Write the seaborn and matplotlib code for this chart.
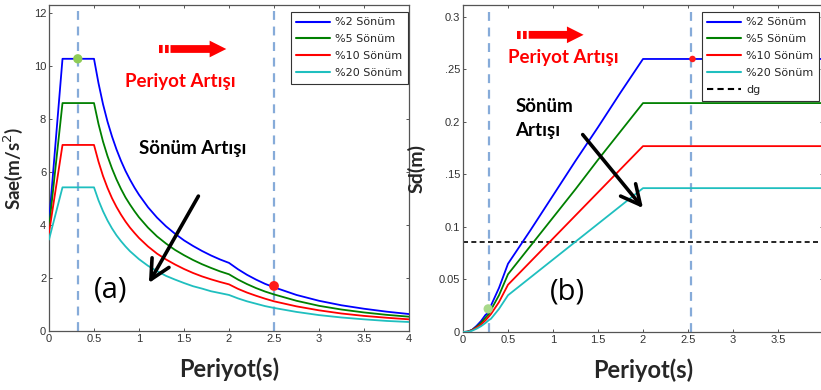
import numpy as np
import pandas as pd
import matplotlib
matplotlib.use("Agg")
import matplotlib.pyplot as plt
import seaborn as sns

# ---------------- data ----------------
series = ["%2 Sönüm", "%5 Sönüm", "%10 Sönüm", "%20 Sönüm"]
colors = ["#0000ff", "#008000", "#ff0000", "#1fbfbf"]

T_sae = [0, 0.15, 0.5, 0.55, 0.6, 0.65, 0.7, 0.75, 0.8, 0.85, 0.9, 0.95, 1.0,
         1.1, 1.2, 1.3, 1.4, 1.5, 1.6, 1.7, 1.8, 1.9, 2.0,
         2.1, 2.2, 2.3, 2.4, 2.5, 2.75, 3.0, 3.25, 3.5, 3.75, 4.0]
sae_2 = [4.1, 10.27, 10.27, 9.35, 8.56, 7.9, 7.34, 6.85, 6.42, 6.04, 5.71, 5.41, 5.14,
         4.67, 4.28, 3.95, 3.67, 3.42, 3.21, 3.02, 2.85, 2.70, 2.57,
         2.33, 2.12, 1.94, 1.78, 1.65, 1.36, 1.14, 0.97, 0.84, 0.73, 0.64]
sae_5 = [3.9, 8.6, 8.6, 7.81, 7.15, 6.6, 6.13, 5.72, 5.36, 5.04, 4.77, 4.52, 4.29,
         3.9, 3.57, 3.3, 3.06, 2.86, 2.68, 2.52, 2.38, 2.25, 2.14,
         1.94, 1.77, 1.62, 1.49, 1.38, 1.14, 0.95, 0.81, 0.7, 0.61, 0.54]
sae_10 = [3.7, 7.02, 7.02, 6.39, 5.85, 5.4, 5.01, 4.68, 4.39, 4.13, 3.9, 3.7, 3.51,
          3.19, 2.92, 2.7, 2.51, 2.34, 2.19, 2.06, 1.95, 1.85, 1.76,
          1.59, 1.45, 1.33, 1.22, 1.12, 0.93, 0.78, 0.66, 0.57, 0.5, 0.44]
sae_20 = [3.45, 5.42, 5.42, 4.93, 4.52, 4.17, 3.87, 3.61, 3.39, 3.19, 3.01, 2.86, 2.71,
          2.46, 2.26, 2.08, 1.94, 1.81, 1.69, 1.6, 1.5, 1.43, 1.36,
          1.23, 1.12, 1.03, 0.94, 0.87, 0.72, 0.6, 0.51, 0.44, 0.38, 0.34]

T_sd = [0, 0.05, 0.1, 0.15, 0.2, 0.25, 0.29, 0.31, 0.4, 0.5, 0.75, 1.0, 1.25,
        1.5, 1.75, 2.0, 2.5, 3.0, 3.5, 4.0]
sd_2 = [0, 0.0003, 0.002, 0.0058, 0.0104, 0.0163, 0.019, 0.025, 0.042, 0.065, 0.097,
        0.13, 0.163, 0.195, 0.228, 0.26, 0.26, 0.26, 0.26, 0.26]
sd_5 = [0, 0.0003, 0.0019, 0.0049, 0.0087, 0.0136, 0.0175, 0.021, 0.035, 0.055, 0.082,
        0.109, 0.136, 0.164, 0.191, 0.218, 0.218, 0.218, 0.218, 0.218]
sd_10 = [0, 0.0003, 0.0017, 0.0042, 0.0071, 0.0111, 0.015, 0.017, 0.0285, 0.045, 0.067,
         0.089, 0.111, 0.133, 0.155, 0.177, 0.177, 0.177, 0.177, 0.177]
sd_20 = [0, 0.0001, 0.0012, 0.0031, 0.0055, 0.0086, 0.0115, 0.0125, 0.022, 0.035, 0.052,
         0.069, 0.086, 0.103, 0.12, 0.137, 0.137, 0.137, 0.137, 0.137]
dg = 0.086

vlines_a = [0.32, 2.5]
vlines_b = [0.29, 2.53]
green_pt_a = (0.32, 10.27)
red_pt_a = (2.5, 1.7)
green_pt_b = (0.28, 0.022)
red_pt_b = (2.55, 0.26)

x_ticks = [0, 0.5, 1, 1.5, 2, 2.5, 3, 3.5, 4]
xa_ticklabels = ["0", "0.5", "1", "1.5", "2", "2.5", "3", "3.5", "4"]
xb_ticklabels = ["0", "0.5", "1", "1.5", "2", "2.5", "3", "3.5", ""]
ya_ticks = [0, 2, 4, 6, 8, 10, 12]
yb_ticks = [0, 0.05, 0.1, 0.15, 0.2, 0.25, 0.3]
yb_ticklabels = ["0", "0.05", "0.1", ".15", "0.2", ".25", "0.3"]

# ---------------- style ----------------
sns.set_theme(style="white")
plt.rcParams["font.family"] = ["DejaVu Sans"]
plt.rcParams.update({
    "xtick.direction": "in", "ytick.direction": "in",
    "xtick.top": True, "ytick.right": True,
    "xtick.bottom": True, "ytick.left": True,
    "xtick.major.size": 2.5, "ytick.major.size": 2.5,
    "xtick.major.width": 0.7, "ytick.major.width": 0.7,
    "axes.edgecolor": "#555555", "axes.linewidth": 0.9,
})
tick_font = dict(family=["Liberation Sans Narrow", "Liberation Sans", "DejaVu Sans"], size=8)
ann_font = ["Lato", "Open Sans", "DejaVu Sans"]

fig = plt.figure(figsize=(8.21, 3.9), dpi=100)
axA = fig.add_axes([49 / 821, 59 / 390, 360 / 821, 326 / 390])
axB = fig.add_axes([463 / 821, 58 / 390, 360 / 821, 327 / 390])

dfA = pd.DataFrame({
    "T": T_sae * 4,
    "v": sae_2 + sae_5 + sae_10 + sae_20,
    "s": sum([[s] * len(T_sae) for s in series], []),
})
dfB = pd.DataFrame({
    "T": T_sd * 4,
    "v": sd_2 + sd_5 + sd_10 + sd_20,
    "s": sum([[s] * len(T_sd) for s in series], []),
})
pal = dict(zip(series, colors))

vcol = "#86abd9"
for ax, vl in ((axA, vlines_a), (axB, vlines_b)):
    for x in vl:
        ax.axvline(x, color=vcol, lw=1.6, dashes=(4, 3), zorder=1)

sns.lineplot(data=dfA, x="T", y="v", hue="s", palette=pal, ax=axA, lw=1.3,
             estimator=None, sort=False, zorder=3)
sns.lineplot(data=dfB, x="T", y="v", hue="s", palette=pal, ax=axB, lw=1.3,
             estimator=None, sort=False, zorder=3)
axB.axhline(dg, color="black", lw=1.2, dashes=(3, 2), label="dg", zorder=2)

# markers
axA.scatter(*green_pt_a, s=45, color="#8fcc55", zorder=5, edgecolor="none")
axA.scatter(*red_pt_a, s=50, color="#ff1a1a", zorder=5, edgecolor="none")
axB.scatter(*green_pt_b, s=45, color="#a8d98a", zorder=5, edgecolor="none")
axB.scatter(*red_pt_b, s=22, color="#ff1a1a", zorder=5, edgecolor="none")

# axes formatting
for ax, xl in ((axA, xa_ticklabels), (axB, xb_ticklabels)):
    ax.set_xlim(0, 4)
    ax.set_xticks(x_ticks)
    ax.set_xticklabels(xl, **tick_font, color="#333333")
    ax.tick_params(axis="both", colors="#555555", labelcolor="#333333", pad=2)
axA.set_ylim(0, 12.3)
axA.set_yticks(ya_ticks)
axA.set_yticklabels([str(v) for v in ya_ticks], **tick_font, color="#333333")
axB.set_ylim(0, 0.3114)
axB.set_yticks(yb_ticks)
axB.set_yticklabels(yb_ticklabels, **tick_font, color="#333333")

lab_font = dict(family=ann_font, weight="bold")
axA.set_xlabel("Periyot(s)", fontsize=17, **lab_font)
axB.set_xlabel("Periyot(s)", fontsize=17, **lab_font)
axA.xaxis.set_label_coords(0.5, -0.08)
axB.xaxis.set_label_coords(0.5, -0.08)
axA.set_ylabel("Sae(m/s$^2$)", fontsize=13.5, **lab_font)
axB.set_ylabel("Sd(m)", fontsize=14, **lab_font)
axA.yaxis.set_label_coords(-0.068, 0.5)
axB.yaxis.set_label_coords(-0.105, 0.5)

# legends
leg_kw = dict(loc="upper right", fontsize=8, frameon=True, fancybox=False,
              framealpha=1, edgecolor="#333333", handlelength=3, handletextpad=0.5,
              labelspacing=0.62, borderpad=0.5, borderaxespad=0)
legA = axA.legend(bbox_to_anchor=(0.997, 0.979), **leg_kw)
hB, lB = axB.get_legend_handles_labels()
legB = axB.legend(hB, lB, bbox_to_anchor=(0.989, 0.979), **leg_kw)
for leg in (legA, legB):
    leg.get_frame().set_linewidth(0.8)
    for line in leg.get_lines():
        line.set_linewidth(1.5)

# annotations
axA.text(1.46, 9.4, "Periyot Artışı", color="#ff0000", fontsize=13.5, ha="center",
         va="center", family=ann_font, weight="bold")
axA.text(1.6, 6.9, "Sönüm Artışı", color="black", fontsize=13.5, ha="center",
         va="center", family=ann_font, weight="bold")
axA.text(0.68, 1.55, "(a)", color="black", fontsize=21, ha="center", va="center",
         family=["Open Sans", "DejaVu Sans"])
axB.text(1.11, 0.261, "Periyot Artışı", color="#ff0000", fontsize=13.5, ha="center",
         va="center", family=ann_font, weight="bold")
axB.text(0.58, 0.203, "Sönüm\nArtışı", color="black", fontsize=13.5, ha="left",
         va="center", family=ann_font, weight="bold", linespacing=1.5)
axB.text(1.16, 0.038, "(b)", color="black", fontsize=21, ha="center", va="center",
         family=["Open Sans", "DejaVu Sans"])

red_arrow = dict(arrowstyle="simple,head_length=0.6,head_width=0.6,tail_width=0.28",
                 color="#ff0000", lw=0, mutation_scale=20, shrinkA=0, shrinkB=0)
axA.annotate("", xy=(1.97, 10.64), xytext=(1.35, 10.64), arrowprops=red_arrow)
axA.plot([1.22, 1.34], [10.64, 10.64], color="#ff0000", lw=5.8,
         solid_capstyle="butt", dashes=(0.45, 0.3))
axB.annotate("", xy=(1.34, 0.283), xytext=(0.73, 0.283), arrowprops=red_arrow)
axB.plot([0.60, 0.72], [0.283, 0.283], color="#ff0000", lw=5.8,
         solid_capstyle="butt", dashes=(0.45, 0.3))

blk_arrow = dict(arrowstyle="->,head_length=0.7,head_width=0.35", color="black",
                 lw=2.6, mutation_scale=20, shrinkA=0, shrinkB=0)
axA.annotate("", xy=(1.11, 1.81), xytext=(1.66, 5.09), arrowprops=blk_arrow, zorder=6)
axB.annotate("", xy=(2.0, 0.118), xytext=(1.33, 0.188), arrowprops=blk_arrow, zorder=6)

fig.savefig("out.png", dpi=100)
